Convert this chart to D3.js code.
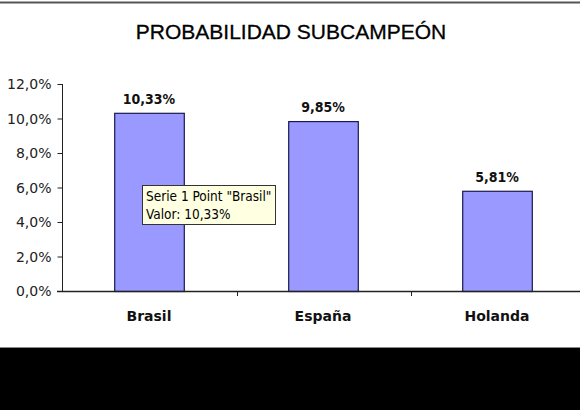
<!DOCTYPE html>
<html><head><meta charset="utf-8">
<script src="https://cdn.jsdelivr.net/npm/d3@7"></script>
<style>body{margin:0;background:#fff;}svg{display:block;}</style>
</head><body>
<script>
const title = "PROBABILIDAD SUBCAMPEÓN";
const categories = ["Brasil", "España", "Holanda"];
const values = [10.33, 9.85, 5.81];
const yTicks = [0, 2, 4, 6, 8, 10, 12];
const tooltipLines = ['Serie 1 Point "Brasil"', 'Valor: 10,33%'];

const W = 580, H = 410;
const svg = d3.select("body").append("svg").attr("width", W).attr("height", H);
svg.append("rect").attr("width", W).attr("height", H).attr("fill", "#fff");

// top border
svg.append("line").attr("x1",0).attr("x2",W).attr("y1",2.5).attr("y2",2.5).attr("stroke","#555").attr("stroke-width",2);
// bottom black area
svg.append("rect").attr("x",0).attr("y",347).attr("width",W).attr("height",H-347).attr("fill","#000");
svg.append("line").attr("x1",0).attr("x2",W).attr("y1",347.5).attr("y2",347.5).attr("stroke","#888").attr("stroke-width",1);

const fmt = v => v.toFixed(1).replace(".", ",") + "%";
const fmt2 = v => v.toFixed(2).replace(".", ",") + "%";

const x = d3.scaleBand().domain(categories).range([62, 584]).paddingInner(0.6).paddingOuter(0.3);
const y = d3.scaleLinear().domain([0, 12]).range([291, 84]);

svg.append("text").attr("x", 291).attr("y", 39).attr("text-anchor","middle")
  .attr("font-family","Liberation Sans, Arial, sans-serif").attr("font-size",21).attr("fill","#000")
  .attr("stroke","#000").attr("stroke-width",0.3).text(title);

// bars
svg.selectAll("rect.bar").data(values).enter().append("rect").attr("class","bar")
  .attr("x",(d,i)=>x(categories[i])+0.5).attr("width",x.bandwidth())
  .attr("y",d=>y(d)+0.5).attr("height",d=>y(0)-y(d))
  .attr("fill","#9999ff").attr("stroke","#1a1a50").attr("stroke-width",1.2);

// y axis
const yAxis = d3.axisLeft(y).tickValues(yTicks).tickSize(5).tickFormat(fmt);
const gy = svg.append("g").attr("transform","translate(62.5,0)").call(yAxis);
gy.select(".domain").attr("stroke","#222").attr("d","M0,84V291");
gy.selectAll(".tick line").attr("stroke","#222");
gy.selectAll(".tick text").attr("font-family","DejaVu Sans, Tahoma, sans-serif").attr("font-size",14).attr("fill","#222").attr("x",-11).attr("dy","0.35em");

// x axis line and ticks at band boundaries
svg.append("line").attr("x1",57).attr("x2",W).attr("y1",291.5).attr("y2",291.5).attr("stroke","#222").attr("stroke-width",1.3);
const bounds = [1,2].map(i => 62 + i*x.step() + 1);
svg.selectAll("line.xt").data(bounds).enter().append("line").attr("class","xt")
  .attr("x1",d=>Math.round(d)+0.5).attr("x2",d=>Math.round(d)+0.5).attr("y1",291).attr("y2",296).attr("stroke","#222");

// category labels
svg.selectAll("text.cat").data(categories).enter().append("text").attr("class","cat")
  .attr("x",d=>x(d)+x.bandwidth()/2).attr("y",321).attr("text-anchor","middle")
  .attr("font-family","DejaVu Sans, Tahoma, sans-serif").attr("font-weight","bold").attr("font-size",14)
  .attr("fill","#111").text(d=>d);

// data labels
svg.selectAll("text.val").data(values).enter().append("text").attr("class","val")
  .attr("x",(d,i)=>x(categories[i])+x.bandwidth()/2).attr("y",d=>y(d)-9).attr("text-anchor","middle")
  .attr("font-family","DejaVu Sans Condensed, DejaVu Sans, sans-serif").attr("font-weight","bold").attr("font-size",14)
  .attr("fill","#111").text(fmt2);

// tooltip
const tt = svg.append("g").attr("transform","translate(142,185)");
tt.append("rect").attr("x",0.5).attr("y",0.5).attr("width",133).attr("height",39).attr("fill","#ffffe1").attr("stroke","#333");
tt.selectAll("text").data(tooltipLines).enter().append("text")
  .attr("x",4).attr("y",(d,i)=>16+i*18)
  .attr("font-family","DejaVu Sans Condensed, DejaVu Sans, sans-serif").attr("font-size",13.5).attr("fill","#000").text(d=>d);
</script>
</body></html>
